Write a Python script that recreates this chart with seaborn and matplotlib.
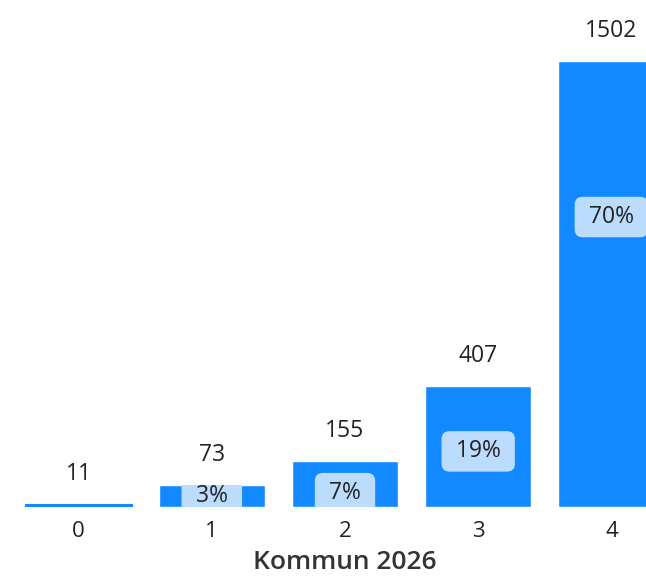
import numpy as np
import pandas as pd
import matplotlib
matplotlib.use("Agg")
import matplotlib.pyplot as plt
import seaborn as sns

# data
categories = ["0", "1", "2", "3", "4"]
counts = [11, 73, 155, 407, 1502]
axis_title = "Kommun 2026"

# where the percent badge sits, as a fraction of each bar's height
badge_frac = [0.5, 0.5, 0.3, 0.46, 0.65]

bar_color = "#1289ff"
badge_color = "#bbdcfd"
text_color = "#222222"

sns.set_theme(style="white")
plt.rcParams["font.family"] = ["Open Sans", "DejaVu Sans"]

df = pd.DataFrame({"cat": categories, "n": counts})
total = df["n"].sum()
df["pct"] = (df["n"] / total * 100).round().astype(int)

fig = plt.figure(figsize=(6.46, 5.79), dpi=100)
ax = fig.add_axes([12 / 646, 72 / 579, 666 / 646, 507 / 579])

sns.barplot(data=df, x="cat", y="n", color=bar_color, saturation=1,
            width=0.8, ax=ax)
ax.set_xlim(-0.5, 4.5)
ax.set_ylim(0, 1707)

for i, (bar, row) in enumerate(zip(ax.patches, df.itertuples())):
    h = bar.get_height()
    x = bar.get_x() + bar.get_width() / 2
    if h < 15:
        # very thin bar: draw it a touch thicker so it stays visible
        bar.set_edgecolor(bar_color)
        bar.set_linewidth(0.8)
    ax.annotate(str(row.n), (x, h), xytext=(0, 21.5), textcoords="offset points",
                ha="center", va="center", fontsize=16.5, color=text_color)
    if h < 30:
        continue
    t = ax.text(x, h * badge_frac[i], f" {row.pct}% ", ha="center", va="center",
                fontsize=16.5, color=text_color,
                bbox=dict(boxstyle="round,pad=0.36,rounding_size=0.35",
                          fc=badge_color, ec="none"))
    # clip the badge to its bar, like the short bars in the original
    t.set_clip_on(True)
    t.set_clip_path(bar)
    bp = t.get_bbox_patch()
    bp.set_clip_on(True)
    bp.set_clip_path(bar)

sns.despine(ax=ax, left=True, bottom=True)
ax.set_yticks([])
ax.set_ylabel("")
ax.tick_params(axis="x", length=0, pad=10, labelsize=16, labelcolor=text_color)
ax.set_xlabel(axis_title, fontsize=19, fontweight="semibold", color="#333333",
              labelpad=6)

fig.savefig("out.png", dpi=100)
